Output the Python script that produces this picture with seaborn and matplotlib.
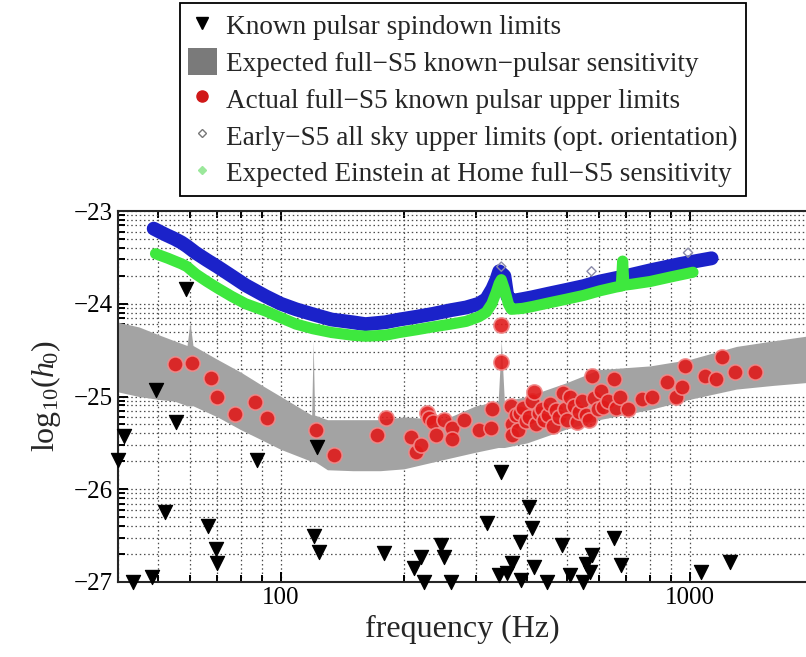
import matplotlib
matplotlib.use("Agg")
import numpy as np
import pandas as pd
import matplotlib.pyplot as plt
import seaborn as sns
from matplotlib.lines import Line2D
from matplotlib.patches import Patch
from matplotlib.ticker import FixedLocator, FuncFormatter, NullFormatter

# ---- data (frequency in Hz, log10 h0) ----
spin_f = [40.0, 41.3, 43.6, 48.4, 49.6, 52.2, 55.3, 58.8, 66.2, 69.3, 69.7, 87.4,
          120.5, 122.5, 124, 179, 212, 220, 224, 246, 251, 261, 320, 342, 346,
          358, 368, 384, 387, 405, 412, 417, 447, 488, 509, 548, 558, 569, 575,
          654, 680, 1067, 1254]
spin_h = [-25.68, -25.43, -27.0, -26.95, -24.93, -26.24, -25.27, -23.84, -26.40,
          -26.64, -26.80, -25.68, -26.50, -25.54, -26.68, -26.69, -26.85, -26.73,
          -27.0, -26.60, -26.73, -27.0, -26.36, -26.92, -25.81, -26.90, -26.80,
          -26.57, -26.98, -26.19, -26.42, -26.84, -27.0, -26.60, -26.92, -27.0,
          -26.81, -26.89, -26.71, -26.53, -26.82, -26.89, -26.78]

ul_f = [55, 60.5, 67.7, 69.7, 77.2, 86.3, 92.4, 121.8, 134.9, 172, 181, 208, 214,
        220, 228, 230, 236, 240, 250, 262, 262, 281, 306, 327, 329, 346, 346, 366,
        368, 368, 375, 380, 385, 392, 398, 405, 412, 417, 420, 428, 435, 440, 450,
        455, 462, 470, 478, 489, 495, 500, 509, 520, 530, 537, 545, 556, 567, 575,
        583, 595, 607, 612, 630, 654, 661, 674, 706, 763, 810, 880, 925, 955, 973,
        1088, 1160, 1200, 1288, 1441]
ul_h = [-24.65, -24.64, -24.80, -25.01, -25.19, -25.06, -25.23, -25.36, -25.63,
        -25.41, -25.23, -25.44, -25.60, -25.52, -25.18, -25.23, -25.28, -25.41,
        -25.25, -25.34, -25.46, -25.25, -25.36, -25.34, -25.14, -24.23, -24.63,
        -25.10, -25.30, -25.41, -25.20, -25.36, -25.18, -25.12, -25.26, -25.22,
        -25.05, -24.95, -25.30, -25.18, -25.14, -25.25, -25.20, -25.08, -25.32,
        -25.15, -25.22, -24.96, -25.14, -25.25, -25.00, -25.10, -25.28, -25.17,
        -25.05, -25.20, -25.25, -24.78, -25.02, -25.13, -24.94, -25.11, -25.05,
        -24.81, -25.12, -25.00, -25.14, -25.03, -25.01, -24.84, -25.01, -24.90,
        -24.67, -24.78, -24.81, -24.57, -24.74, -24.74]

band_f = [40, 45, 50, 55, 59, 60, 61, 70, 80, 90, 100, 119, 120, 121, 130, 150,
          175, 200, 250, 300, 340, 346, 352, 400, 500, 600, 800, 1000, 1300, 1600, 1923]
band_hi = [-24.20, -24.25, -24.33, -24.40, -24.45, -24.20, -24.45, -24.60, -24.74,
           -24.88, -25.00, -25.20, -24.40, -25.20, -25.25, -25.25, -25.25, -25.22,
           -25.25, -25.10, -25.05, -24.40, -25.05, -25.00, -24.85, -24.71, -24.67,
           -24.60, -24.46, -24.40, -24.35]
band_lo = [-24.95, -25.00, -25.03, -25.05, -25.10, -25.10, -25.10, -25.22, -25.36,
           -25.47, -25.57, -25.70, -25.70, -25.70, -25.79, -25.80, -25.80, -25.78,
           -25.68, -25.60, -25.55, -25.55, -25.55, -25.50, -25.35, -25.25, -25.14,
           -25.03, -24.92, -24.88, -24.85]

early_f = [48.9, 52, 55, 57.2, 59, 61.9, 66, 70, 75.8, 82, 91.9, 100, 109, 119, 133,
           150, 161, 180, 195, 215, 235, 260, 284, 305, 318, 329, 336, 342, 352, 358,
           368, 390, 412, 453, 500, 550, 603, 700, 800, 950, 1130]
early_h = [-23.19, -23.25, -23.30, -23.34, -23.38, -23.45, -23.53, -23.60, -23.70,
           -23.80, -23.92, -24.00, -24.06, -24.11, -24.17, -24.20, -24.22, -24.20,
           -24.17, -24.14, -24.11, -24.07, -24.04, -24.00, -23.95, -23.84, -23.75,
           -23.65, -23.70, -23.92, -23.97, -23.95, -23.93, -23.89, -23.85, -23.81,
           -23.76, -23.70, -23.64, -23.57, -23.51]
early_out_f = [346, 575, 990]
early_out_h = [-23.60, -23.65, -23.45]

eah_f = [49.4, 53, 57.2, 59, 62, 66, 70, 75.8, 82, 92, 100, 109, 120, 133, 150, 161,
         180, 195, 215, 235, 260, 284, 305, 318, 328, 336, 342, 346, 352, 360, 366,
         390, 412, 453, 500, 550, 603, 660, 680, 685, 690, 720, 800, 900, 1018]
eah_h = [-23.46, -23.51, -23.57, -23.60, -23.68, -23.76, -23.83, -23.92, -24.00,
         -24.08, -24.15, -24.22, -24.27, -24.31, -24.34, -24.35, -24.34, -24.31,
         -24.28, -24.25, -24.22, -24.19, -24.14, -24.09, -24.00, -23.88, -23.78,
         -23.74, -23.84, -24.00, -24.06, -24.05, -24.03, -23.99, -23.95, -23.91,
         -23.86, -23.82, -23.81, -23.54, -23.80, -23.79, -23.76, -23.71, -23.66]

legend_labels = ["Known pulsar spindown limits",
                 "Expected full\u2212S5 known\u2212pulsar sensitivity",
                 "Actual full\u2212S5 known pulsar upper limits",
                 "Early\u2212S5 all sky upper limits (opt. orientation)",
                 "Expected Einstein at Home full\u2212S5 sensitivity"]

sns.set_style("ticks")
plt.rcParams["font.family"] = ["Liberation Serif", "DejaVu Serif"]
plt.rcParams["mathtext.fontset"] = "custom"
plt.rcParams["mathtext.rm"] = "Liberation Serif"
plt.rcParams["mathtext.it"] = "Liberation Serif:italic"

spin = pd.DataFrame({"f": spin_f, "h": spin_h})
ul = pd.DataFrame({"f": ul_f, "h": ul_h})
early = pd.DataFrame({"f": early_f, "h": early_h})
eah = pd.DataFrame({"f": eah_f, "h": eah_h})

fig = plt.figure(figsize=(8.06, 6.57), dpi=100)
ax = fig.add_axes([118 / 806, 1 - 582 / 657, 1 - 118 / 806, (582 - 211) / 657])
ax.set_xscale("log")
ax.set_xlim(40, 1923)
ax.set_ylim(-27, -23)

# grid: log-style minor lines in both directions
ymin_pos = [d + np.log10(k) for d in range(-28, -23) for k in range(2, 10)]
ax.yaxis.set_major_locator(FixedLocator([-27, -26, -25, -24, -23]))
ax.yaxis.set_minor_locator(FixedLocator(ymin_pos))
ax.xaxis.set_major_locator(FixedLocator([100, 1000]))
ax.xaxis.set_minor_locator(FixedLocator([40, 50, 60, 70, 80, 90, 200, 300, 400, 500,
                                         600, 700, 800, 900]))
ax.xaxis.set_major_formatter(FuncFormatter(lambda v, p: f"{v:.0f}"))
ax.xaxis.set_minor_formatter(NullFormatter())
ax.yaxis.set_major_formatter(FuncFormatter(lambda v, p: f"\u2212{abs(v):.0f}"))
ax.grid(which="both", color="0.3", linestyle=(0, (1.2, 2.2)), linewidth=0.9)
ax.set_axisbelow(True)

ax.fill_between(band_f, band_lo, band_hi, color="#a3a3a3", lw=0, zorder=2)

sns.lineplot(data=early, x="f", y="h", sort=False, estimator=None, color="#1b22c9",
             lw=10, marker="D", markersize=6, markeredgewidth=0, ax=ax, zorder=3)
sns.lineplot(data=eah, x="f", y="h", sort=False, estimator=None, color="#3ee83e",
             lw=8, marker="D", markersize=5, markeredgewidth=0, ax=ax, zorder=4)
ax.scatter(early_out_f, early_out_h, marker="D", s=22, facecolor="none",
           edgecolor="#8a8aa8", lw=1, zorder=5)
sns.scatterplot(data=ul, x="f", y="h", color="#e01b1b", s=120, edgecolor="#f08a8a",
                linewidth=1.2, alpha=0.9, ax=ax, zorder=6)
sns.scatterplot(data=spin, x="f", y="h", color="black", marker="v", s=105,
                edgecolor="black", ax=ax, zorder=7, clip_on=False)

ax.tick_params(axis="both", which="both", direction="in", top=True, right=False,
               labelsize=18, colors="black")
ax.tick_params(which="major", length=7, width=1.4)
ax.tick_params(which="minor", length=5, width=1.4)
ax.spines["right"].set_visible(False)
for s in ["left", "bottom", "top"]:
    ax.spines[s].set_linewidth(1.5)
ax.set_xlabel("frequency (Hz)", fontsize=23, labelpad=4)
ax.set_ylabel(r"$\mathrm{log}_{10}(h_{\!0})$", fontsize=23, labelpad=8)

handles = [Line2D([], [], marker="v", color="k", ls="", markersize=9),
           Patch(facecolor="#7a7a7a", edgecolor="none"),
           Line2D([], [], marker="o", color="#d01818", ls="", markersize=8),
           Line2D([], [], marker="D", mfc="white", mec="#777777", ls="", markersize=4),
           Line2D([], [], marker="D", color="#9be89b", ls="", markersize=4)]
leg = fig.legend(handles, legend_labels, loc="upper left",
                 bbox_to_anchor=(180 / 806, 1 - 3 / 657), fontsize=19.6,
                 frameon=True, fancybox=False, edgecolor="black", framealpha=1,
                 handlelength=1.05, handleheight=1.15, handletextpad=0.35,
                 labelspacing=0.3, borderpad=0.3, borderaxespad=0)
leg.get_frame().set_linewidth(1.3)

fig.savefig("out.png", dpi=100)
